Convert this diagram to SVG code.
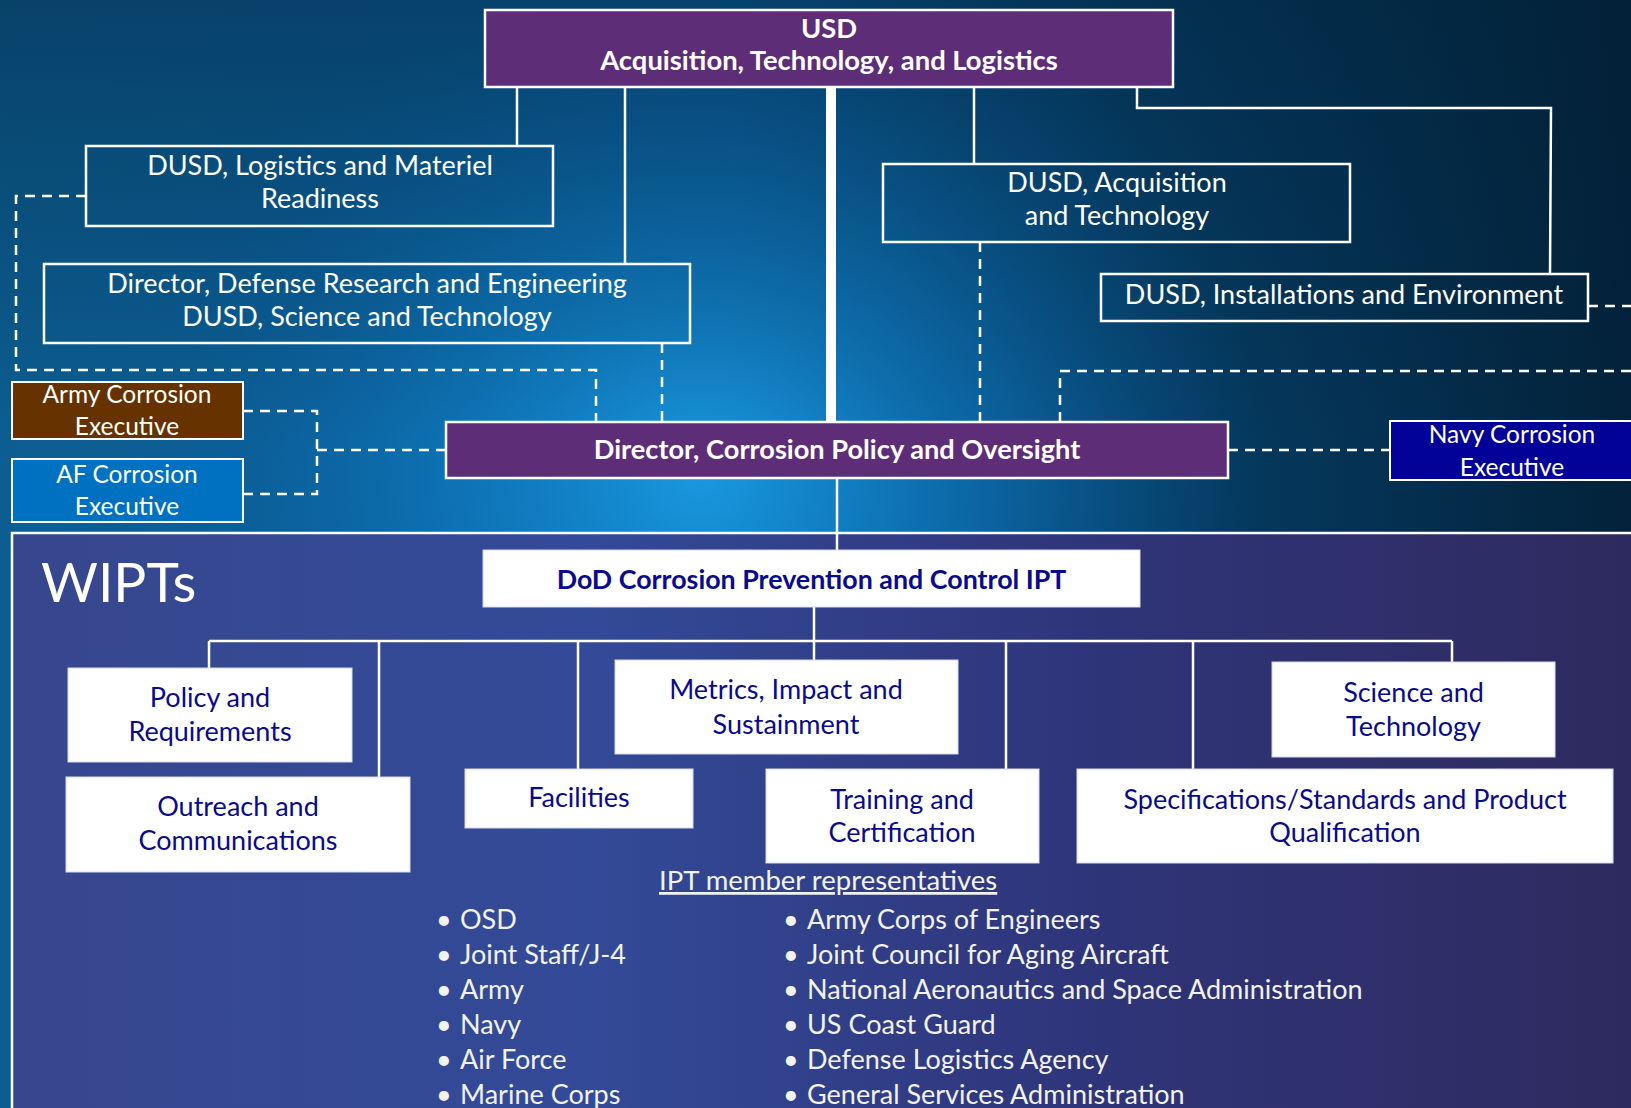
<svg xmlns="http://www.w3.org/2000/svg" width="1631" height="1108" viewBox="0 0 1631 1108">
  <defs>
    <linearGradient id="bgTop" x1="0" y1="0" x2="1" y2="0">
      <stop offset="0" stop-color="#0c5e92"/>
      <stop offset="0.45" stop-color="#0a5c9a"/>
      <stop offset="0.75" stop-color="#053a60"/>
      <stop offset="1" stop-color="#03223a"/>
    </linearGradient>
    <radialGradient id="glow" cx="700" cy="470" r="560" gradientUnits="userSpaceOnUse">
      <stop offset="0" stop-color="#1a9ce4" stop-opacity="0.95"/>
      <stop offset="0.5" stop-color="#0f80c8" stop-opacity="0.5"/>
      <stop offset="1" stop-color="#0a5c9a" stop-opacity="0"/>
    </radialGradient>
    <linearGradient id="topDark" x1="0" y1="0" x2="0" y2="1">
      <stop offset="0" stop-color="#022036" stop-opacity="0.45"/>
      <stop offset="0.4" stop-color="#022036" stop-opacity="0"/>
    </linearGradient>
    <linearGradient id="bgBottom" x1="0" y1="0" x2="1" y2="0">
      <stop offset="0" stop-color="#37478e"/>
      <stop offset="0.35" stop-color="#334a98"/>
      <stop offset="0.65" stop-color="#2f357a"/>
      <stop offset="1" stop-color="#2e2a5e"/>
    </linearGradient>
    <style>
      text { font-family: Lato, "Open Sans", "Liberation Sans", sans-serif; }
      .w { fill: #ffffff; font-size: 27px; text-anchor: middle; }
      .wb { fill: #ffffff; font-size: 27.4px; font-weight: bold; text-anchor: middle; }
      .ex { fill: #ffffff; font-size: 24.5px; text-anchor: middle; }
      .n { fill: #0a0a8c; font-size: 27px; text-anchor: middle; }
      .nb { fill: #0a0a8c; font-size: 26.8px; font-weight: bold; text-anchor: middle; }
      .li { fill: #f2f2f2; font-size: 27px; }
      .box { fill: none; stroke: #ffffff; stroke-width: 2.5; }
      .pur { fill: #5e2d78; stroke: #ffffff; stroke-width: 2.5; }
      .wbox { fill: #ffffff; stroke: #d8d8e8; stroke-width: 1; }
      .ln { fill: none; stroke: #ffffff; stroke-width: 2.5; }
      .dash { fill: none; stroke: #ffffff; stroke-width: 2.5; stroke-dasharray: 10 7; }
    </style>
  </defs>

  <!-- background -->
  <rect x="0" y="0" width="1631" height="1108" fill="url(#bgTop)"/>
  <rect x="0" y="0" width="1631" height="1108" fill="url(#glow)"/>
  <rect x="0" y="0" width="1631" height="1108" fill="url(#topDark)"/>
  <rect id="wipt-panel" x="12" y="533" width="1640" height="600" fill="url(#bgBottom)" stroke="#ffffff" stroke-width="2.5"/>

  <!-- connectors -->
  <g id="connectors">
    <line class="ln" x1="517" y1="87" x2="517" y2="146"/>
    <line class="ln" x1="625" y1="87" x2="625" y2="264"/>
    <line x1="831" y1="87" x2="831" y2="422" stroke="#ffffff" stroke-width="10"/>
    <line class="ln" x1="974" y1="87" x2="974" y2="164"/>
    <polyline class="ln" points="1137,87 1137,108 1551,108 1550,274"/>
    <polyline class="dash" points="86,196 16,196 16,370 596,370 596,422"/>
    <line class="dash" x1="662" y1="343" x2="662" y2="422"/>
    <line class="dash" x1="980" y1="242" x2="980" y2="422"/>
    <polyline class="dash" points="1060,422 1060,371 1631,371"/>
    <line class="dash" x1="1588" y1="306" x2="1631" y2="306"/>
    <polyline class="dash" points="243,411 317,411 317,494 243,494"/>
    <line class="dash" x1="317" y1="450" x2="446" y2="450"/>
    <line class="dash" x1="1228" y1="450" x2="1390" y2="450"/>
    <line class="ln" x1="837" y1="478" x2="837" y2="550"/>
    <line class="ln" x1="209" y1="641" x2="1452" y2="641"/>
    <line class="ln" x1="209" y1="641" x2="209" y2="668"/>
    <line class="ln" x1="379" y1="641" x2="379" y2="777"/>
    <line class="ln" x1="578" y1="641" x2="578" y2="769"/>
    <line class="ln" x1="814" y1="607" x2="814" y2="660"/>
    <line class="ln" x1="1006" y1="641" x2="1006" y2="769"/>
    <line class="ln" x1="1193" y1="641" x2="1193" y2="769"/>
    <line class="ln" x1="1452" y1="641" x2="1452" y2="662"/>
  </g>

  <g id="usd">
    <rect class="pur" x="485" y="10" width="688" height="77"/>
    <text class="wb" x="829" y="38">USD</text>
    <text class="wb" x="829" y="70">Acquisition, Technology, and Logistics</text>
  </g>
  <g id="dusd-lmr">
    <rect class="box" x="86" y="146" width="467" height="80"/>
    <text class="w" x="320" y="175">DUSD, Logistics and Materiel</text>
    <text class="w" x="320" y="208">Readiness</text>
  </g>
  <g id="ddre">
    <rect class="box" x="44" y="264" width="646" height="79"/>
    <text class="w" x="367" y="293">Director, Defense Research and Engineering</text>
    <text class="w" x="367" y="326">DUSD, Science and Technology</text>
  </g>
  <g id="dusd-at">
    <rect class="box" x="883" y="164" width="467" height="78"/>
    <text class="w" x="1117" y="192">DUSD, Acquisition</text>
    <text class="w" x="1117" y="225">and Technology</text>
  </g>
  <g id="dusd-ie">
    <rect class="box" x="1101" y="274" width="487" height="47"/>
    <text class="w" x="1344" y="304">DUSD, Installations and Environment</text>
  </g>
  <g id="director-cpo">
    <rect class="pur" x="446" y="422" width="782" height="56"/>
    <text class="wb" x="837" y="459" style="font-size:27.2px">Director, Corrosion Policy and Oversight</text>
  </g>
  <g id="army-exec">
    <rect x="12" y="382" width="231" height="57" fill="#663300" stroke="#ffffff" stroke-width="2"/>
    <text class="ex" x="127" y="403">Army Corrosion</text>
    <text class="ex" x="127" y="435">Executive</text>
  </g>
  <g id="af-exec">
    <rect x="12" y="459" width="231" height="63" fill="#0070c0" stroke="#ffffff" stroke-width="2"/>
    <text class="ex" x="127" y="483">AF Corrosion</text>
    <text class="ex" x="127" y="515">Executive</text>
  </g>
  <g id="navy-exec">
    <rect x="1390" y="421" width="250" height="59" fill="#020298" stroke="#ffffff" stroke-width="2"/>
    <text class="ex" x="1512" y="443">Navy Corrosion</text>
    <text class="ex" x="1512" y="476">Executive</text>
  </g>

  <text x="41" y="602" fill="#ffffff" font-size="55">WIPTs</text>

  <g id="dod-ipt">
    <rect class="wbox" x="483" y="550" width="657" height="57"/>
    <text class="nb" x="811.5" y="589">DoD Corrosion Prevention and Control IPT</text>
  </g>
  <g id="policy">
    <rect class="wbox" x="68" y="668" width="284" height="94"/>
    <text class="n" x="210" y="707">Policy and</text>
    <text class="n" x="210" y="741">Requirements</text>
  </g>
  <g id="outreach">
    <rect class="wbox" x="66" y="777" width="344" height="95"/>
    <text class="n" x="238" y="816">Outreach and</text>
    <text class="n" x="238" y="850">Communications</text>
  </g>
  <g id="facilities">
    <rect class="wbox" x="465" y="769" width="228" height="59"/>
    <text class="n" x="579" y="807">Facilities</text>
  </g>
  <g id="metrics">
    <rect class="wbox" x="615" y="660" width="343" height="94"/>
    <text class="n" x="786" y="699">Metrics, Impact and</text>
    <text class="n" x="786" y="734">Sustainment</text>
  </g>
  <g id="training">
    <rect class="wbox" x="766" y="769" width="273" height="94"/>
    <text class="n" x="902" y="809">Training and</text>
    <text class="n" x="902" y="842">Certification</text>
  </g>
  <g id="specs">
    <rect class="wbox" x="1077" y="769" width="536" height="94"/>
    <text class="n" x="1345" y="809">Specifications/Standards and Product</text>
    <text class="n" x="1345" y="842">Qualification</text>
  </g>
  <g id="science">
    <rect class="wbox" x="1272" y="662" width="283" height="95"/>
    <text class="n" x="1413.5" y="702">Science and</text>
    <text class="n" x="1413.5" y="736">Technology</text>
  </g>

  <g id="members">
    <text class="li" x="659" y="890" text-decoration="underline" style="font-size:27.5px">IPT member representatives</text>
    <g>
      <text class="li" x="436" y="929">•</text><text class="li" x="460" y="929">OSD</text>
      <text class="li" x="436" y="964">•</text><text class="li" x="460" y="964">Joint Staff/J-4</text>
      <text class="li" x="436" y="999">•</text><text class="li" x="460" y="999">Army</text>
      <text class="li" x="436" y="1034">•</text><text class="li" x="460" y="1034">Navy</text>
      <text class="li" x="436" y="1069">•</text><text class="li" x="460" y="1069">Air Force</text>
      <text class="li" x="436" y="1104">•</text><text class="li" x="460" y="1104">Marine Corps</text>
    </g>
    <g>
      <text class="li" x="783" y="929">•</text><text class="li" x="807" y="929">Army Corps of Engineers</text>
      <text class="li" x="783" y="964">•</text><text class="li" x="807" y="964">Joint Council for Aging Aircraft</text>
      <text class="li" x="783" y="999">•</text><text class="li" x="807" y="999">National Aeronautics and Space Administration</text>
      <text class="li" x="783" y="1034">•</text><text class="li" x="807" y="1034">US Coast Guard</text>
      <text class="li" x="783" y="1069">•</text><text class="li" x="807" y="1069">Defense Logistics Agency</text>
      <text class="li" x="783" y="1104">•</text><text class="li" x="807" y="1104">General Services Administration</text>
    </g>
  </g>
</svg>
